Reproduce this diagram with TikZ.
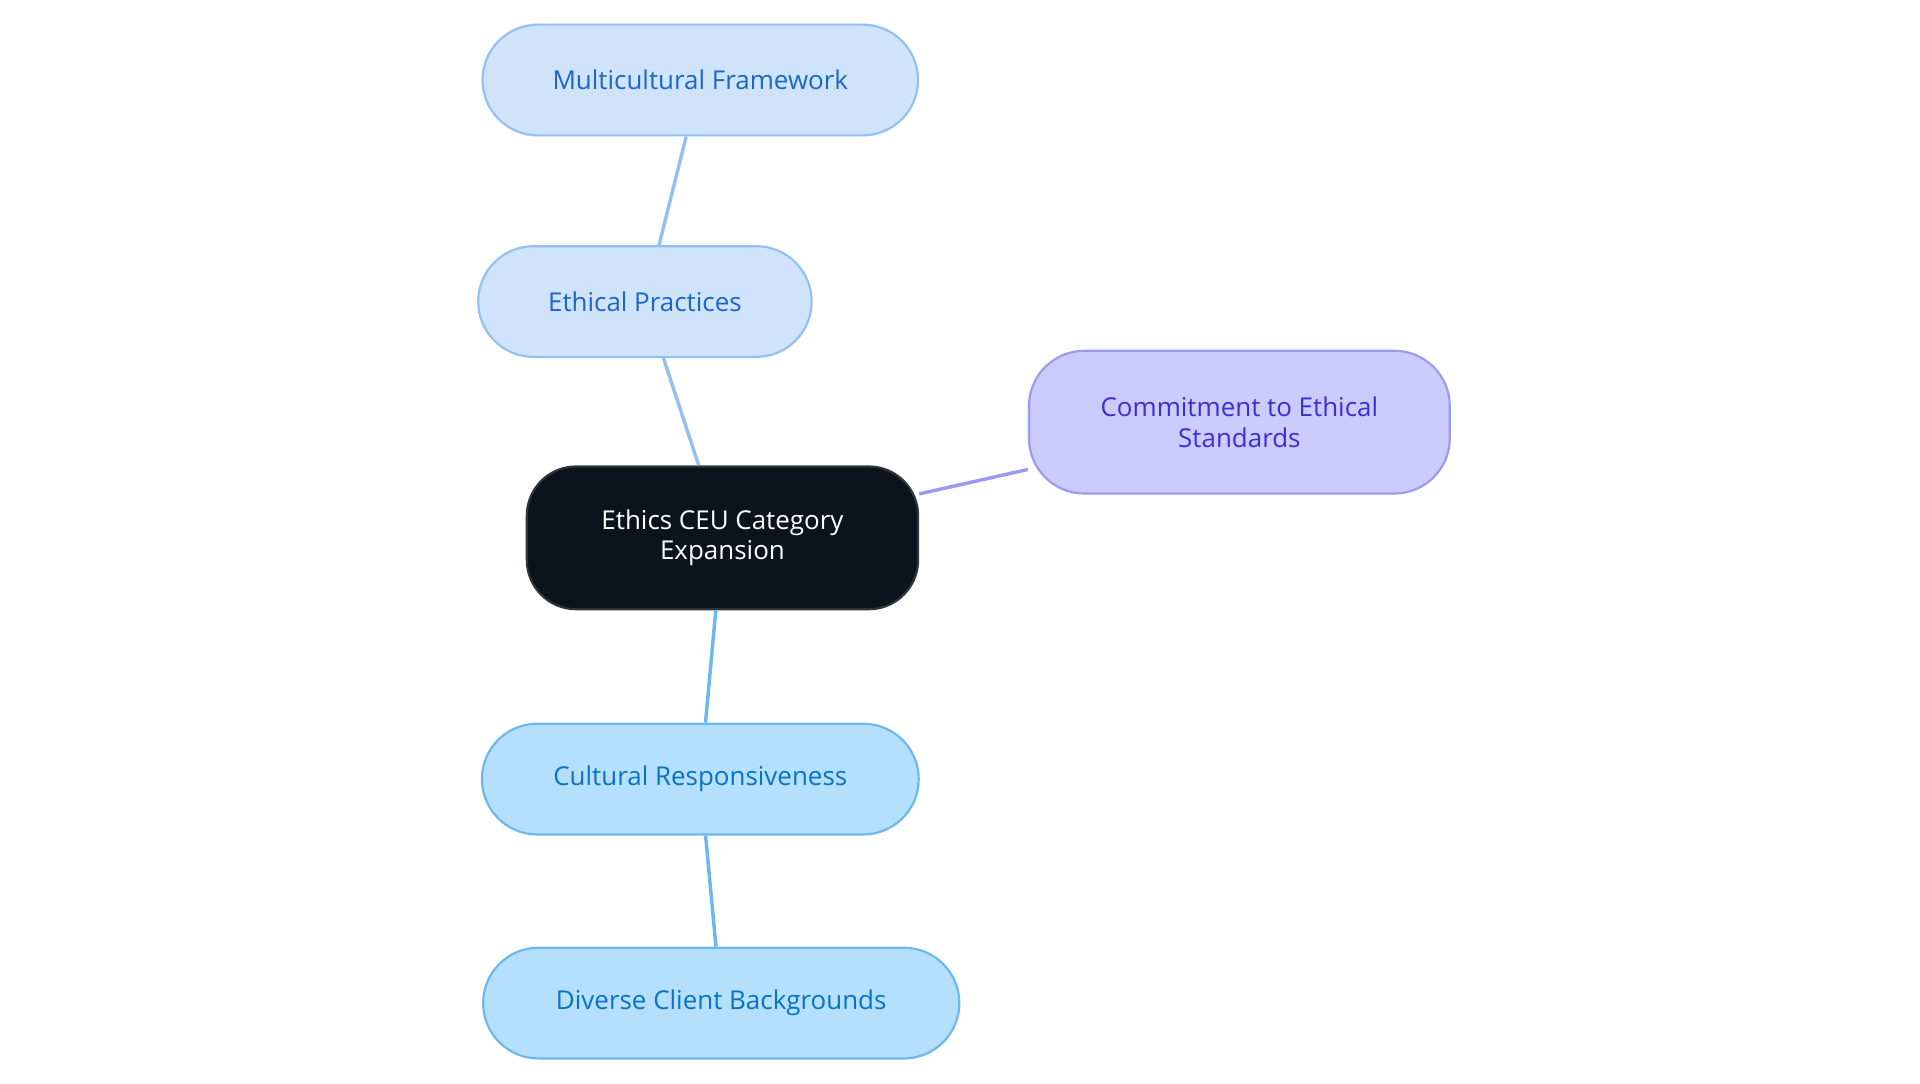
\documentclass[tikz,border=0pt]{standalone}
\usepackage{fontspec}
\setmainfont{Open Sans}
\definecolor{rootfill}{HTML}{0D131C}
\definecolor{pfill}{HTML}{CFE3FB}
\definecolor{pline}{HTML}{93C0F0}
\definecolor{ptext}{HTML}{1A66CC}
\definecolor{cfill}{HTML}{B5E0FD}
\definecolor{cline}{HTML}{6CB8EE}
\definecolor{ctext}{HTML}{0A72C4}
\definecolor{vfill}{HTML}{CBCBFD}
\definecolor{vline}{HTML}{9A9AF0}
\definecolor{vtext}{HTML}{3A2FD0}
\begin{document}
\begin{tikzpicture}[
        x=0.02cm, y=-0.02cm,
        box/.style={draw, line width=1pt, rounded corners=0.9cm, align=center,
            minimum height=1.8cm, inner sep=0pt, font=\fontsize{12}{14}\selectfont},
        root/.style={box, fill=rootfill, draw=rootfill!70!gray, text=white,
            minimum height=2.32cm, rounded corners=0.8cm},
        practice/.style={box, fill=pfill, draw=pline, text=ptext},
        culture/.style={box, fill=cfill, draw=cline, text=ctext},
        commit/.style={box, fill=vfill, draw=vline, text=vtext, minimum height=2.32cm},
        link/.style={line width=1.6pt},
    ]
    \useasboundingbox (0,0) rectangle (1560,880);

    \node[root, minimum width=6.36cm] (ethics) at (587,437) {Ethics CEU Category\\Expansion};
    \node[practice, minimum width=7.08cm] (multi) at (569,65) {Multicultural Framework};
    \node[practice, minimum width=5.42cm] (practices) at (524,245) {Ethical Practices};
    \node[commit, minimum width=6.84cm] (commitment) at (1007,343) {Commitment to Ethical\\Standards};
    \node[culture, minimum width=7.1cm] (cultural) at (569,633) {Cultural Responsiveness};
    \node[culture, minimum width=7.74cm] (diverse) at (586,815) {Diverse Client Backgrounds};

    \draw[link, draw=pline] (ethics) -- (practices);
    \draw[link, draw=pline] (practices) -- (multi);
    \draw[link, draw=vline] (ethics) -- (commitment);
    \draw[link, draw=cline] (ethics) -- (cultural);
    \draw[link, draw=cline] (cultural) -- (diverse);
\end{tikzpicture}
\end{document}
